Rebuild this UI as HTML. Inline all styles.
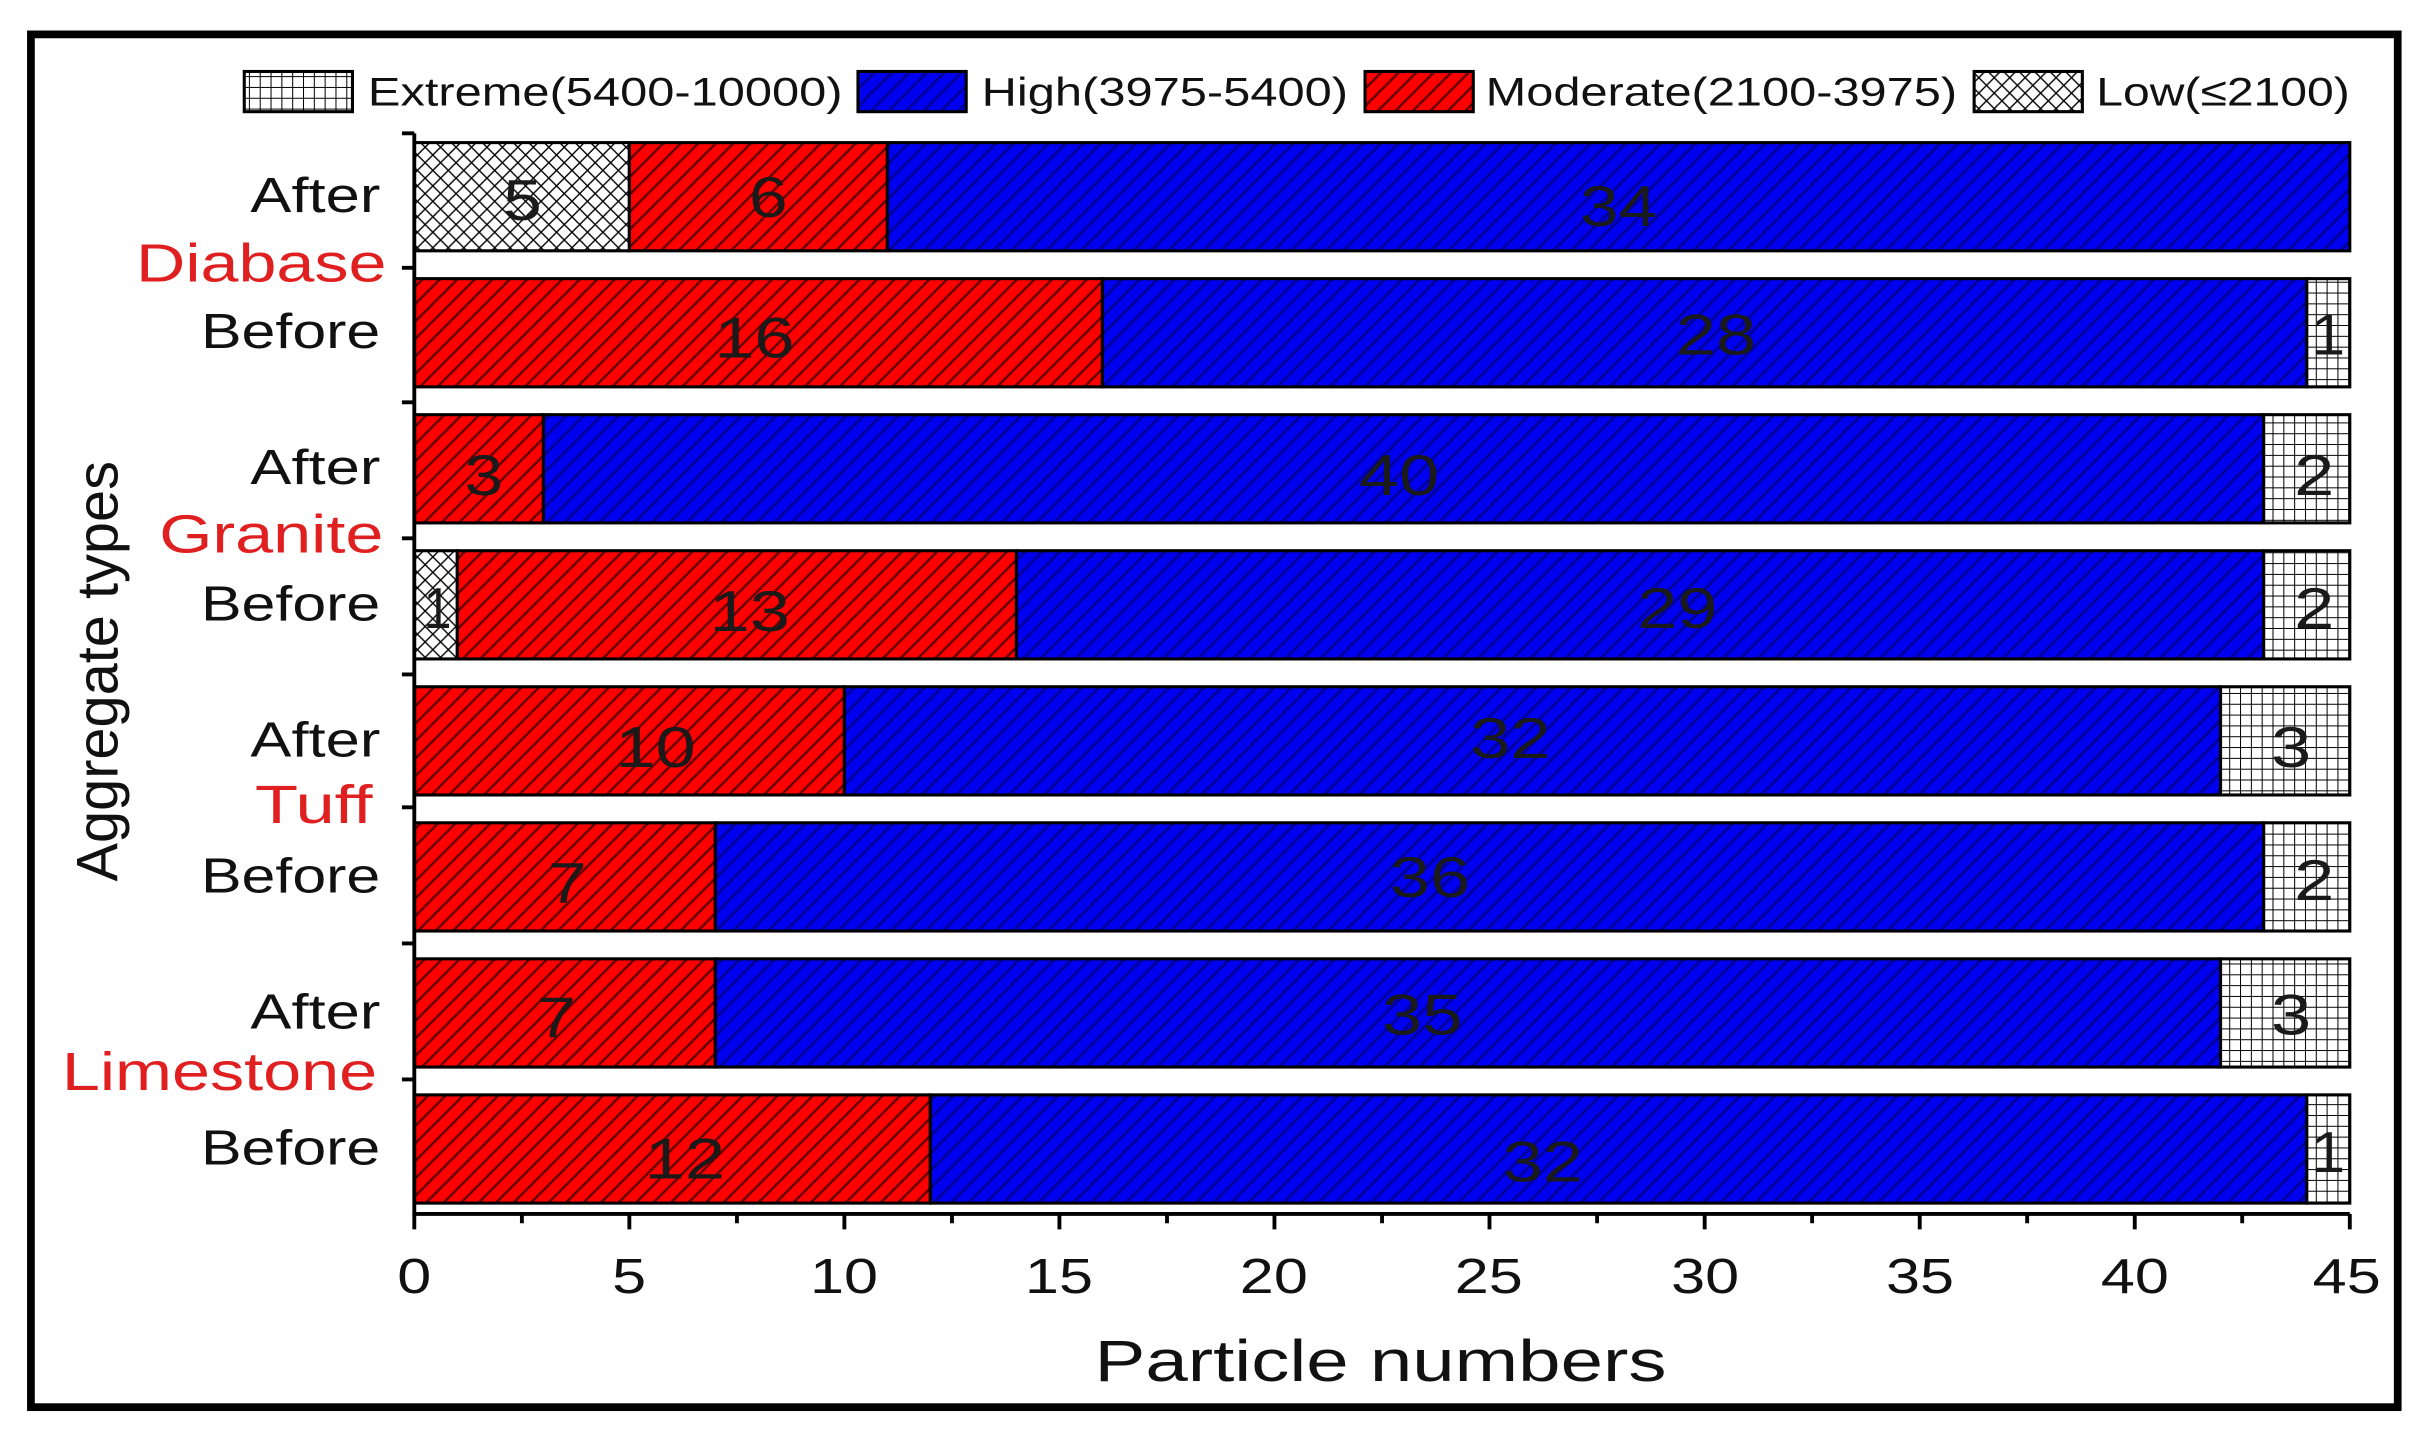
<!DOCTYPE html>
<html><head><meta charset="utf-8"><style>html,body{margin:0;padding:0;background:#fff}svg{display:block}</style></head>
<body>
<svg width="2424" height="1440" viewBox="0 0 1568 931" xmlns="http://www.w3.org/2000/svg" font-family="Liberation Sans, Arial, sans-serif">
<defs>
<pattern id="red" width="8" height="8" patternUnits="userSpaceOnUse" patternTransform="rotate(45)"><rect width="8" height="8" fill="#f00"/><rect width="1.6" height="8" fill="#600"/></pattern>
<pattern id="blue" width="8" height="8" patternUnits="userSpaceOnUse" patternTransform="rotate(45)"><rect width="8" height="8" fill="#0000f0"/><rect width="2" height="8" fill="#0000a0"/></pattern>
<pattern id="grid" width="7" height="7" patternUnits="userSpaceOnUse"><rect width="7" height="7" fill="#fff"/><path d="M0 0H7M0 0V7" stroke="#000" stroke-width="1.3"/></pattern>
<pattern id="cross" width="10" height="10" patternUnits="userSpaceOnUse"><rect width="10" height="10" fill="#fff"/><path d="M0 0L10 10M10 0L0 10" stroke="#000" stroke-width="0.9"/></pattern>
</defs>
<rect x="0" y="0" width="1568" height="931" fill="#fff"/>
<rect x="20" y="22" width="1531" height="888" fill="none" stroke="#000" stroke-width="5"/>
<g font-size="26" fill="#111" lengthAdjust="spacingAndGlyphs">
<rect x="158" y="46" width="70" height="26" fill="url(#grid)" stroke="#000" stroke-width="2"/><text x="238" y="68" textLength="307" lengthAdjust="spacingAndGlyphs">Extreme(5400-10000)</text>
<rect x="555" y="46" width="70" height="26" fill="url(#blue)" stroke="#000" stroke-width="2"/><text x="635" y="68" textLength="237" lengthAdjust="spacingAndGlyphs">High(3975-5400)</text>
<rect x="883" y="46" width="70" height="26" fill="url(#red)" stroke="#000" stroke-width="2"/><text x="961" y="68" textLength="305" lengthAdjust="spacingAndGlyphs">Moderate(2100-3975)</text>
<rect x="1277" y="46" width="70" height="26" fill="url(#cross)" stroke="#000" stroke-width="2"/><text x="1356" y="68" textLength="164" lengthAdjust="spacingAndGlyphs">Low(≤2100)</text>
</g>
<g stroke="#000" stroke-width="2">
<rect x="268" y="92" width="139.1" height="70" fill="url(#cross)"/>
<rect x="407.1" y="92" width="166.9" height="70" fill="url(#red)"/>
<rect x="574" y="92" width="946" height="70" fill="url(#blue)"/>
<rect x="268" y="180" width="445.1" height="70" fill="url(#red)"/>
<rect x="713.1" y="180" width="779.1" height="70" fill="url(#blue)"/>
<rect x="1492.2" y="180" width="27.8" height="70" fill="url(#grid)"/>
<rect x="268" y="268" width="83.5" height="70" fill="url(#red)"/>
<rect x="351.5" y="268" width="1112.8" height="70" fill="url(#blue)"/>
<rect x="1464.3" y="268" width="55.7" height="70" fill="url(#grid)"/>
<rect x="268" y="356" width="27.8" height="70" fill="url(#cross)"/>
<rect x="295.8" y="356" width="361.7" height="70" fill="url(#red)"/>
<rect x="657.5" y="356" width="806.8" height="70" fill="url(#blue)"/>
<rect x="1464.3" y="356" width="55.7" height="70" fill="url(#grid)"/>
<rect x="268" y="444" width="278.2" height="70" fill="url(#red)"/>
<rect x="546.2" y="444" width="890.2" height="70" fill="url(#blue)"/>
<rect x="1436.4" y="444" width="83.6" height="70" fill="url(#grid)"/>
<rect x="268" y="532" width="194.7" height="70" fill="url(#red)"/>
<rect x="462.7" y="532" width="1001.6" height="70" fill="url(#blue)"/>
<rect x="1464.3" y="532" width="55.7" height="70" fill="url(#grid)"/>
<rect x="268" y="620" width="194.7" height="70" fill="url(#red)"/>
<rect x="462.7" y="620" width="973.7" height="70" fill="url(#blue)"/>
<rect x="1436.4" y="620" width="83.6" height="70" fill="url(#grid)"/>
<rect x="268" y="708" width="333.8" height="70" fill="url(#red)"/>
<rect x="601.8" y="708" width="890.4" height="70" fill="url(#blue)"/>
<rect x="1492.2" y="708" width="27.8" height="70" fill="url(#grid)"/>
</g>
<g font-size="37" fill="#1a1a1a" text-anchor="middle">
<text x="338" y="142" textLength="25" lengthAdjust="spacingAndGlyphs">5</text><text x="497" y="140" textLength="25" lengthAdjust="spacingAndGlyphs">6</text><text x="1047" y="146" textLength="50" lengthAdjust="spacingAndGlyphs">34</text>
<text x="488" y="231" textLength="52" lengthAdjust="spacingAndGlyphs">16</text><text x="1110" y="229" textLength="52" lengthAdjust="spacingAndGlyphs">28</text><text x="1506" y="229" textLength="22" lengthAdjust="spacingAndGlyphs">1</text>
<text x="313" y="320" textLength="25" lengthAdjust="spacingAndGlyphs">3</text><text x="905" y="320" textLength="52" lengthAdjust="spacingAndGlyphs">40</text><text x="1497" y="320" textLength="26" lengthAdjust="spacingAndGlyphs">2</text>
<text x="283" y="406" textLength="18" lengthAdjust="spacingAndGlyphs">1</text><text x="485" y="408" textLength="52" lengthAdjust="spacingAndGlyphs">13</text><text x="1085" y="406" textLength="52" lengthAdjust="spacingAndGlyphs">29</text><text x="1497" y="406" textLength="26" lengthAdjust="spacingAndGlyphs">2</text>
<text x="424" y="496" textLength="52" lengthAdjust="spacingAndGlyphs">10</text><text x="977" y="490" textLength="52" lengthAdjust="spacingAndGlyphs">32</text><text x="1482" y="496" textLength="26" lengthAdjust="spacingAndGlyphs">3</text>
<text x="367" y="584" textLength="25" lengthAdjust="spacingAndGlyphs">7</text><text x="925" y="580" textLength="52" lengthAdjust="spacingAndGlyphs">36</text><text x="1497" y="582" textLength="26" lengthAdjust="spacingAndGlyphs">2</text>
<text x="360" y="671" textLength="25" lengthAdjust="spacingAndGlyphs">7</text><text x="920" y="669" textLength="52" lengthAdjust="spacingAndGlyphs">35</text><text x="1482" y="669" textLength="26" lengthAdjust="spacingAndGlyphs">3</text>
<text x="443" y="762" textLength="52" lengthAdjust="spacingAndGlyphs">12</text><text x="998" y="764" textLength="52" lengthAdjust="spacingAndGlyphs">32</text><text x="1506" y="758" textLength="22" lengthAdjust="spacingAndGlyphs">1</text>
</g>
<g stroke="#000" stroke-width="2.5" fill="none">
<path d="M268 86V785H1520"/>
<path d="M260 86H268M260 173H268M260 260H268M260 348H268M260 436H268M260 522H268M260 610H268M260 698H268"/>
<path d="M268 785v10M407.1 785v10M546.2 785v10M685.3 785v10M824.4 785v10M963.5 785v10M1102.7 785v10M1241.8 785v10M1380.9 785v10M1520 785v10"/>
<path d="M337.6 785v6M476.7 785v6M615.8 785v6M754.9 785v6M894 785v6M1033.1 785v6M1172.2 785v6M1311.3 785v6M1450.4 785v6"/>
</g>
<g font-size="32" fill="#111" text-anchor="middle">
<text x="268" y="836" textLength="22" lengthAdjust="spacingAndGlyphs">0</text><text x="407" y="836" textLength="22" lengthAdjust="spacingAndGlyphs">5</text>
<text x="546" y="836" textLength="44" lengthAdjust="spacingAndGlyphs">10</text><text x="685" y="836" textLength="44" lengthAdjust="spacingAndGlyphs">15</text><text x="824" y="836" textLength="44" lengthAdjust="spacingAndGlyphs">20</text><text x="963" y="836" textLength="44" lengthAdjust="spacingAndGlyphs">25</text><text x="1103" y="836" textLength="44" lengthAdjust="spacingAndGlyphs">30</text><text x="1242" y="836" textLength="44" lengthAdjust="spacingAndGlyphs">35</text><text x="1381" y="836" textLength="44" lengthAdjust="spacingAndGlyphs">40</text><text x="1518" y="836" textLength="44" lengthAdjust="spacingAndGlyphs">45</text>
</g>
<text x="893" y="893" font-size="38" text-anchor="middle" fill="#111" textLength="370" lengthAdjust="spacingAndGlyphs">Particle numbers</text>
<text transform="translate(76,434) rotate(-90)" font-size="38" text-anchor="middle" fill="#111" textLength="272" lengthAdjust="spacingAndGlyphs">Aggregate types</text>
<g font-size="32" fill="#111" text-anchor="end">
<text x="246" y="137" textLength="84" lengthAdjust="spacingAndGlyphs">After</text><text x="246" y="225" textLength="116" lengthAdjust="spacingAndGlyphs">Before</text>
<text x="246" y="313" textLength="84" lengthAdjust="spacingAndGlyphs">After</text><text x="246" y="401" textLength="116" lengthAdjust="spacingAndGlyphs">Before</text>
<text x="246" y="489" textLength="84" lengthAdjust="spacingAndGlyphs">After</text><text x="246" y="577" textLength="116" lengthAdjust="spacingAndGlyphs">Before</text>
<text x="246" y="665" textLength="84" lengthAdjust="spacingAndGlyphs">After</text><text x="246" y="753" textLength="116" lengthAdjust="spacingAndGlyphs">Before</text>
</g>
<g font-size="35" fill="#e02020" text-anchor="end">
<text x="250" y="182" textLength="162" lengthAdjust="spacingAndGlyphs">Diabase</text><text x="248" y="357" textLength="145" lengthAdjust="spacingAndGlyphs">Granite</text><text x="241" y="532" textLength="76" lengthAdjust="spacingAndGlyphs">Tuff</text><text x="244" y="705" textLength="204" lengthAdjust="spacingAndGlyphs">Limestone</text>
</g>
</svg>
</body></html>
